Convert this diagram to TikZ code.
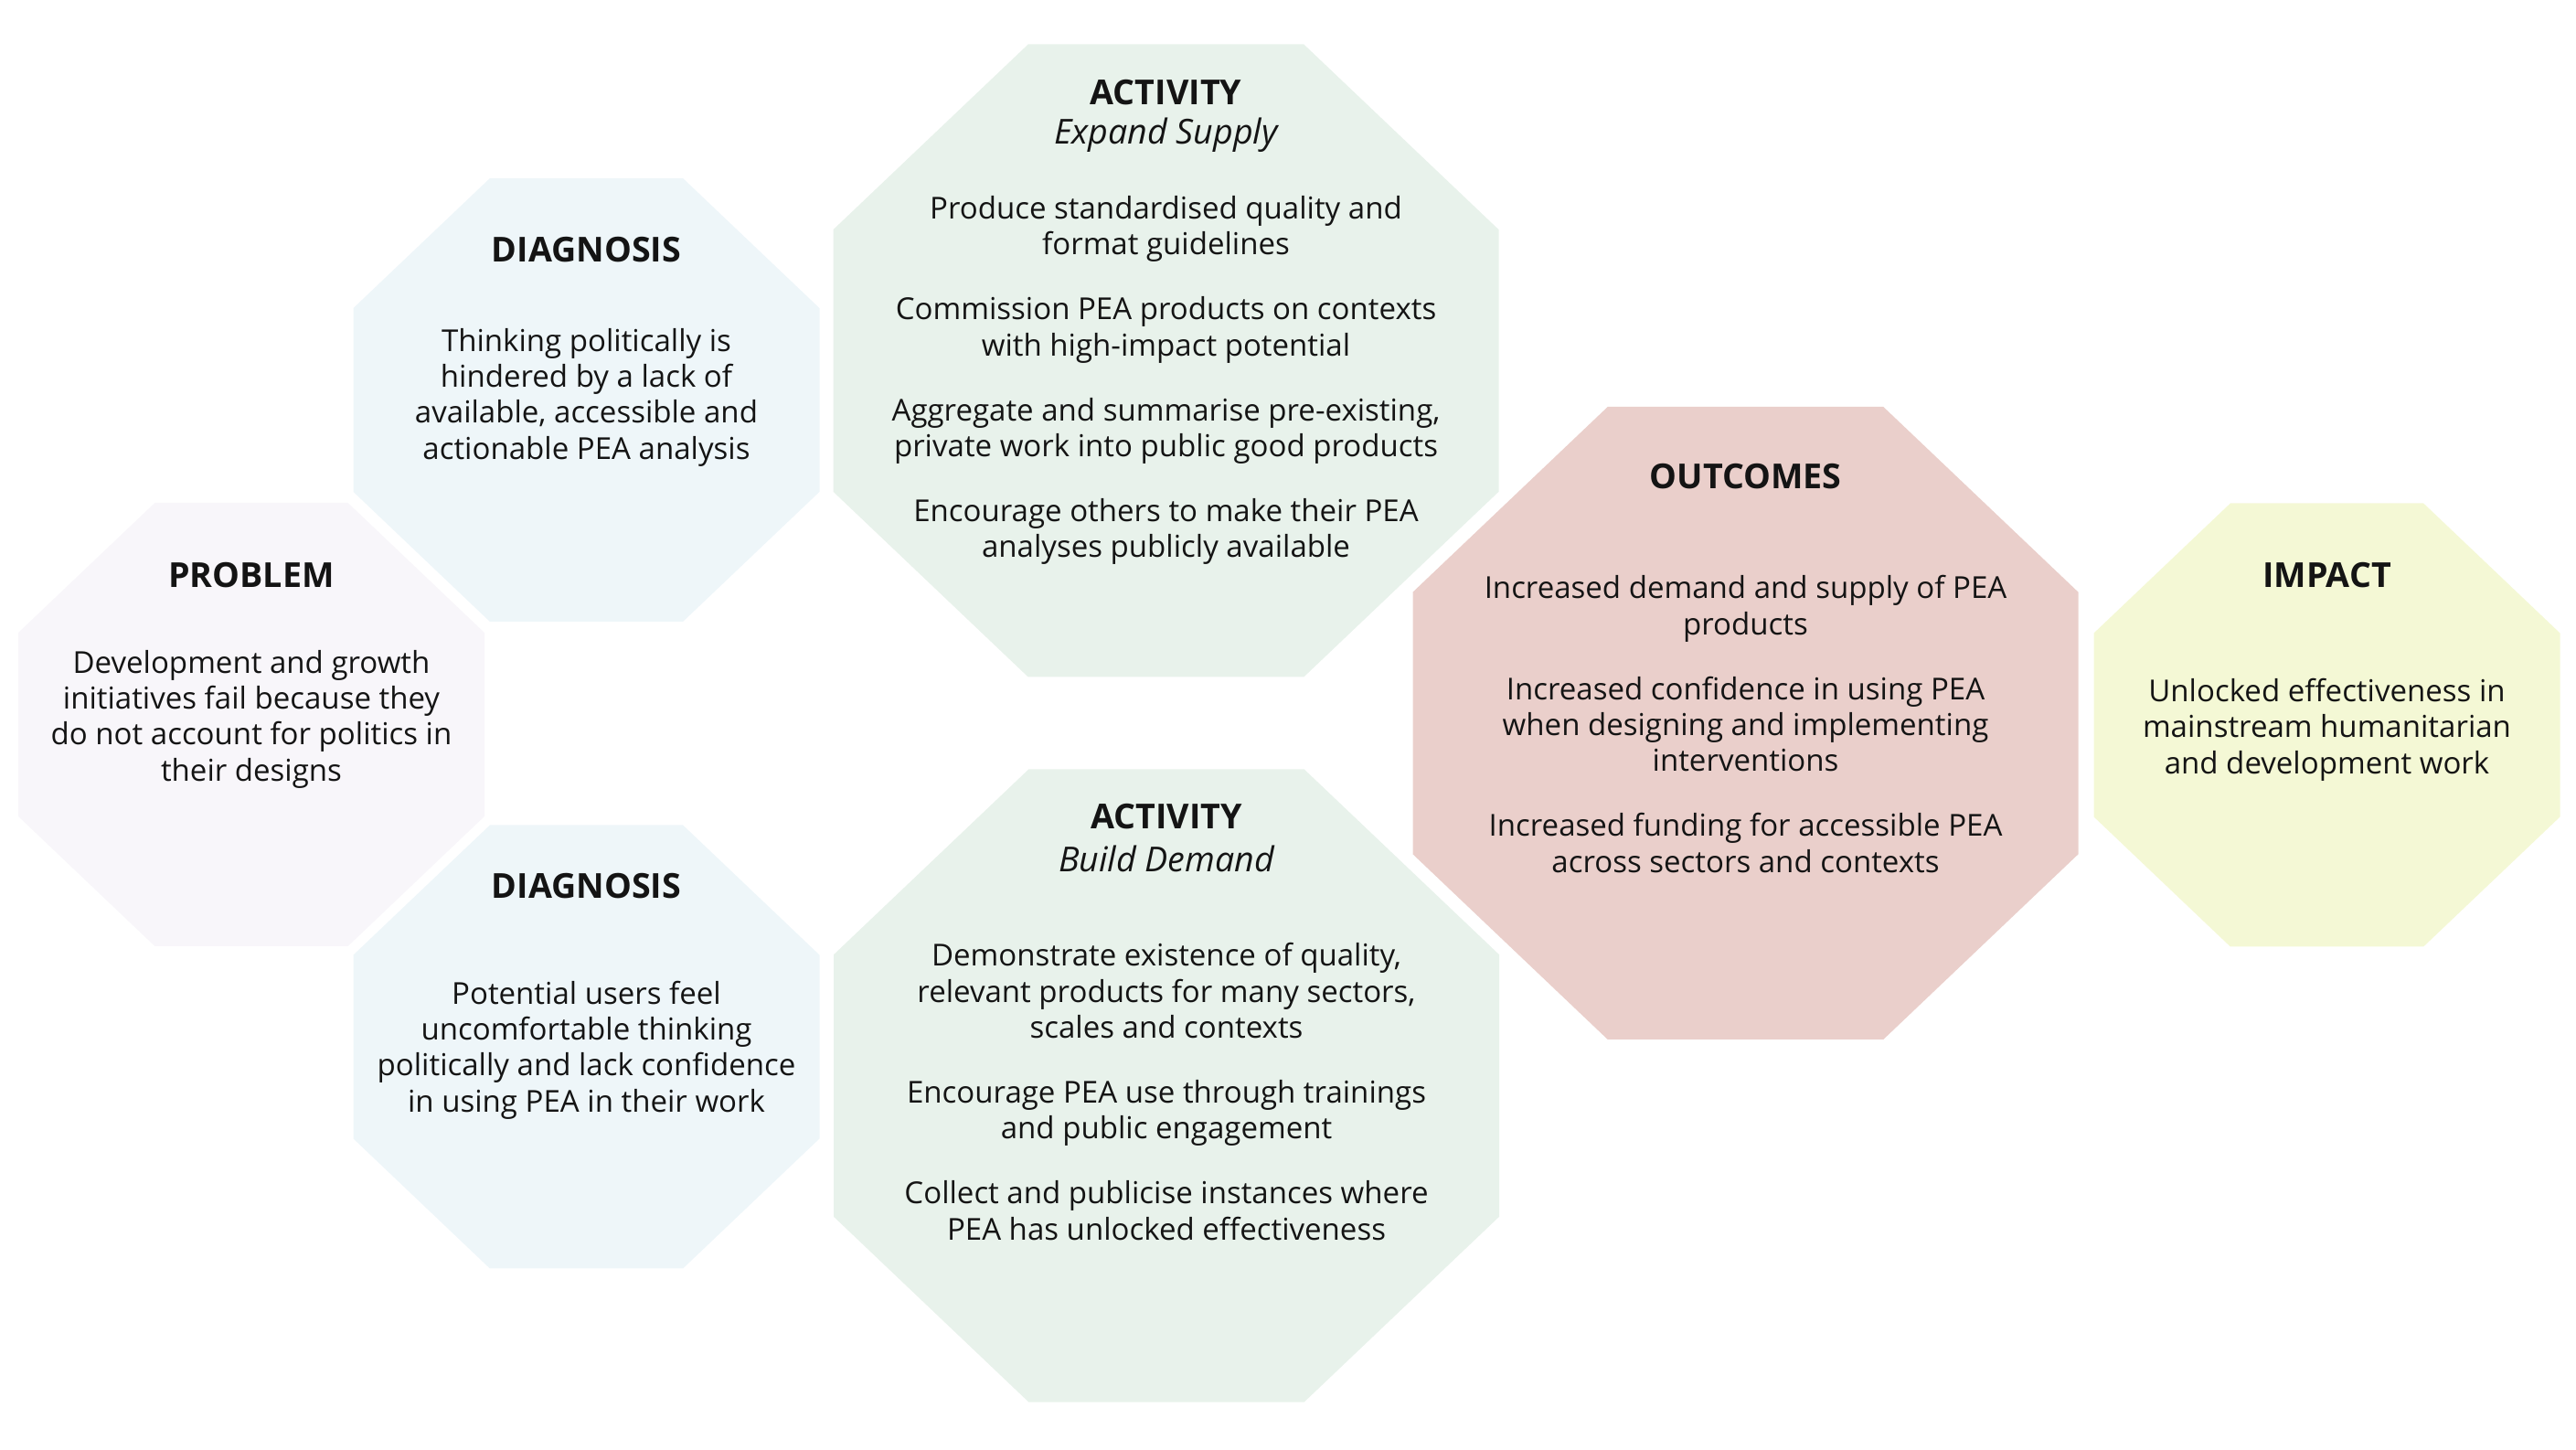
\documentclass[tikz,border=0pt]{standalone}
\usepackage{fontspec}
\setmainfont{Open Sans}
\usepackage{tikz}
\usetikzlibrary{calc}
\definecolor{ink}{HTML}{141414}
\definecolor{diagfill}{HTML}{EEF6F9}
\definecolor{probfill}{HTML}{F8F6FA}
\definecolor{actfill}{HTML}{E8F2EB}
\definecolor{outfill}{HTML}{EACFCB}
\definecolor{impfill}{HTML}{F4F8D5}

% octagon: centre, colour, half width, half height
\newcommand{\octo}[4]{%
  \fill[#2,shift={(#1)}] ({#3},{0.4142*#4}) -- ({0.4142*#3},{#4}) -- ({-0.4142*#3},{#4})
    -- ({-#3},{0.4142*#4}) -- ({-#3},{-0.4142*#4}) -- ({-0.4142*#3},{-#4})
    -- ({0.4142*#3},{-#4}) -- ({#3},{-0.4142*#4}) -- cycle;}

\begin{document}
\begin{tikzpicture}[
  head/.style={align=center,text=ink,inner sep=0pt,font=\fontsize{10.7}{12.8}\selectfont\bfseries},
  sub/.style={align=center,text=ink,inner sep=0pt,font=\fontsize{10.7}{12.8}\selectfont\itshape},
  body/.style={align=center,text=ink,inner sep=0pt,font=\fontsize{9.4}{11.2}\selectfont}]
  \useasboundingbox (0,0) rectangle (28.18,15.85);
  \def\sw{2.55}\def\sh{2.425}
  \def\lw{3.64}\def\lh{3.46}
  % centres
  \coordinate (prob) at (2.75,7.925);
  \coordinate (diag1) at (6.415,11.475);
  \coordinate (diag2) at (6.415,4.40);
  \coordinate (act1) at (12.755,11.905);
  \coordinate (act2) at (12.76,3.975);
  \coordinate (out) at (19.095,7.94);
  \coordinate (imp) at (25.455,7.92);
  % shapes
  \octo{prob}{probfill}{\sw}{\sh}
  \octo{diag1}{diagfill}{\sw}{\sh}
  \octo{diag2}{diagfill}{\sw}{\sh}
  \octo{act1}{actfill}{\lw}{\lh}
  \octo{act2}{actfill}{\lw}{\lh}
  \octo{out}{outfill}{\lw}{\lh}
  \octo{imp}{impfill}{\sw}{\sh}
  % problem
  \node[head] (probhead) at (2.75,9.562) {PROBLEM};
  \node[body] (probtext) at (2.75,7.984) {Development and growth\\initiatives fail because they\\do not account for politics in\\their designs};
  % diagnosis
  \node[head] (diag1head) at (6.415,13.122) {DIAGNOSIS};
  \node[body] (diag1text) at (6.415,11.504) {Thinking politically is\\hindered by a lack of\\available, accessible and\\actionable PEA analysis};
  \node[head] (diag2head) at (6.415,6.162) {DIAGNOSIS};
  \node[body] (diag2text) at (6.415,4.364) {Potential users feel\\uncomfortable thinking\\politically and lack confidence\\in using PEA in their work};
  % activities
  \node[head] (act1head) at (12.755,14.842) {ACTIVITY};
  \node[sub] (act1sub) at (12.755,14.374) {Expand Supply};
  \node[body] (act1text) at (12.755,11.69) {Produce standardised quality and\\format guidelines\\[9pt]Commission PEA products on contexts\\with high-impact potential\\[9pt]Aggregate and summarise pre-existing,\\private work into public good products\\[9pt]Encourage others to make their PEA\\analyses publicly available};
  \node[head] (act2head) at (12.76,6.922) {ACTIVITY};
  \node[sub] (act2sub) at (12.76,6.454) {Build Demand};
  \node[body] (act2text) at (12.76,3.91) {Demonstrate existence of quality,\\relevant products for many sectors,\\scales and contexts\\[9pt]Encourage PEA use through trainings\\and public engagement\\[9pt]Collect and publicise instances where\\PEA has unlocked effectiveness};
  % outcomes
  \node[head] (outhead) at (19.095,10.642) {OUTCOMES};
  \node[body] (outtext) at (19.095,7.93) {Increased demand and supply of PEA\\products\\[9pt]Increased confidence in using PEA\\when designing and implementing\\interventions\\[9pt]Increased funding for accessible PEA\\across sectors and contexts};
  % impact
  \node[head] (imphead) at (25.455,9.562) {IMPACT};
  \node[body] (imptext) at (25.455,7.869) {Unlocked effectiveness in\\mainstream humanitarian\\and development work};
\end{tikzpicture}
\end{document}
